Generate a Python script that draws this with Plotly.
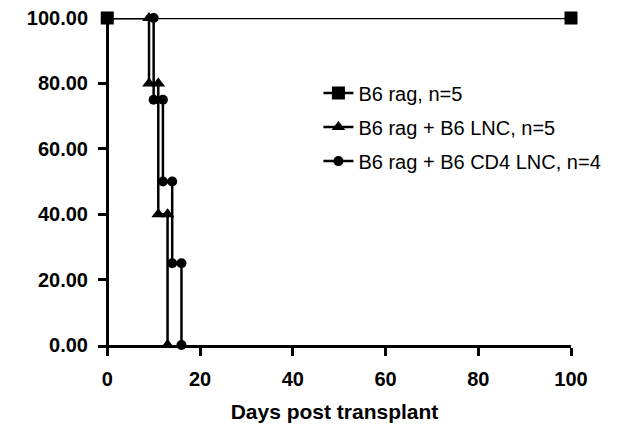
import plotly.graph_objects as go

# survival data (days post transplant, percent surviving)
rag_days = [0, 100]
rag_surv = [100, 100]

lnc_days = [0, 9, 9, 11, 11, 13, 13]
lnc_surv = [100, 100, 80, 80, 40, 40, 0]

cd4_days = [0, 10, 10, 12, 12, 14, 14, 16, 16]
cd4_surv = [100, 100, 75, 75, 50, 50, 25, 25, 0]

x_ticks = [0, 20, 40, 60, 80, 100]
y_ticks = [0, 20, 40, 60, 80, 100]

font = "Liberation Sans, Arial, sans-serif"

fig = go.Figure()

fig.add_trace(go.Scatter(
    x=rag_days, y=rag_surv, name="B6 rag, n=5", legendgroup="a",
    mode="lines+markers", cliponaxis=False,
    line=dict(color="black", width=2.5),
    marker=dict(symbol="square", size=13, color="black"),
))
fig.add_trace(go.Scatter(
    x=lnc_days, y=lnc_surv, name="B6 rag + B6 LNC, n=5", legendgroup="b",
    mode="lines+markers", cliponaxis=False,
    line=dict(color="black", width=2.5),
    marker=dict(symbol="triangle-up", size=12, color="black"),
))
fig.add_trace(go.Scatter(
    x=cd4_days, y=cd4_surv, name="B6 rag + B6 CD4 LNC, n=4", legendgroup="c",
    mode="lines+markers", cliponaxis=False,
    line=dict(color="black", width=2.5),
    marker=dict(symbol="circle", size=10, color="black"),
))

# page has an 8px body margin, so the figure is sized to fit inside 624x440
fig.update_layout(
    width=608, height=424,
    margin=dict(l=90, r=45, t=10, b=87, autoexpand=False),
    paper_bgcolor="white", plot_bgcolor="white",
    font=dict(family=font, color="black"),
    showlegend=True,
    legend=dict(
        x=0.466, y=0.83, xanchor="left", yanchor="top",
        font=dict(size=20, family=font),
        tracegroupgap=5, bgcolor="rgba(0,0,0,0)",
    ),
    xaxis=dict(
        range=[-2, 100], tickvals=x_ticks, automargin=False,
        showgrid=False,
        zeroline=True, zerolinecolor="black", zerolinewidth=3,
        showline=True, linecolor="black", linewidth=3,
        ticks="outside", ticklen=8, tickwidth=3, tickcolor="black",
        ticklabelstandoff=6,
        tickfont=dict(size=20, family=font, weight="bold"),
        title=dict(text="<b>Days post transplant</b>", font=dict(size=21), standoff=16),
    ),
    yaxis=dict(
        range=[0, 100], tickvals=y_ticks, tickformat=".2f", automargin=False,
        showgrid=False, zeroline=False, showline=False,
        ticks="inside", ticklen=9, tickwidth=3, tickcolor="black",
        ticklabelstandoff=9, ticklabeloverflow="allow",
        tickfont=dict(size=20, family=font, weight="bold"),
    ),
)

fig.write_html("out.html")
